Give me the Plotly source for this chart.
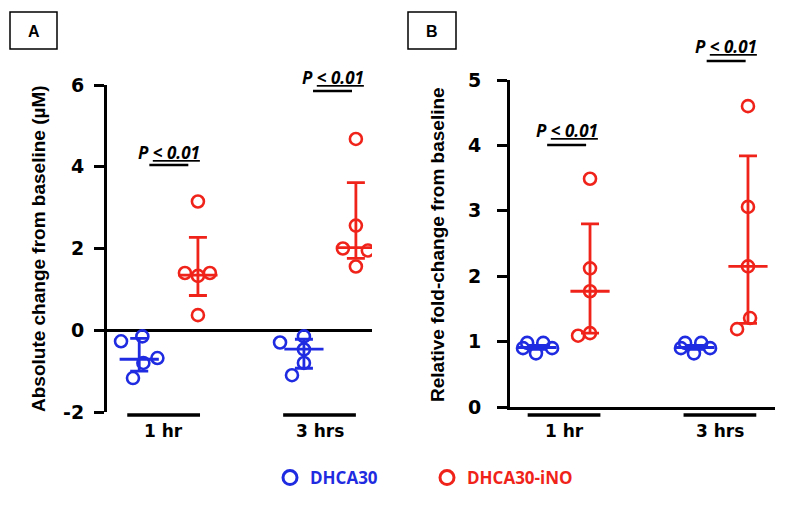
import plotly.graph_objects as go

# ---- data ----
categories = ["1 hr", "3 hrs"]
groups = ["DHCA30", "DHCA30-iNO"]

# panel A: absolute change from baseline (uM)
a_ticks = [-2, 0, 2, 4, 6]
a_ticktext = ["-2", "0", "2", "4", "6"]
a_blue_1hr = [-0.27, -0.15, -0.68, -0.80, -1.17]
a_blue_3hr = [-0.30, -0.15, -0.47, -0.80, -1.10]
a_red_1hr = [3.15, 1.40, 1.40, 1.33, 0.37]
a_red_3hr = [4.68, 2.56, 2.00, 1.95, 1.56]
a_center = [-0.71, -0.46, 1.35, 2.02]   # blue 1hr, blue 3hr, red 1hr, red 3hr
a_upper = [-0.20, -0.22, 2.27, 3.61]
a_lower = [-1.00, -0.93, 0.85, 1.76]

# panel B: relative fold-change from baseline
b_ticks = [0, 1, 2, 3, 4, 5]
b_blue_1hr = [0.98, 0.98, 0.90, 0.90, 0.82]
b_blue_3hr = [0.98, 0.98, 0.90, 0.90, 0.82]
b_red_1hr = [3.49, 2.12, 1.77, 1.13, 1.09]
b_red_3hr = [4.60, 3.06, 2.15, 1.36, 1.19]
b_center = [0.91, 0.91, 1.77, 2.15]
b_upper = [0.94, 0.94, 2.80, 3.84]
b_lower = [0.88, 0.88, 1.13, 1.28]

# ---- layout helpers ----
BLUE = "#1f2be0"
RED = "#f0231a"
FONT = "Liberation Sans"
TICKFONT = "DejaVu Sans"
W, H, OFF = 800, 505, 8   # page body margin shifts the figure by 8px


def px(x):
    return (x - OFF) / W


def py(y):
    return 1 - (y - OFF) / H


cat_pos = [1, 4]
group_off = [-0.5, 0.5]

# horizontal scatter of the circles inside each group
jit_a = {
    "b1": [-0.35, 0.06, 0.35, 0.08, -0.12],
    "b3": [-0.46, 0.0, 0.0, 0.0, -0.23],
    "r1": [0.0, -0.25, 0.23, 0.0, 0.0],
    "r3": [0.0, 0.0, -0.25, 0.23, 0.0],
}
jit_b = {
    "b1": [-0.19, 0.12, -0.27, 0.29, -0.02],
    "b3": [-0.19, 0.12, -0.27, 0.29, -0.02],
    "r1": [0.0, 0.0, 0.0, 0.0, -0.23],
    "r3": [0.0, 0.0, 0.0, 0.04, -0.21],
}

fig = go.Figure()


def add_panel(xa, ya, blue, red, center, upper, lower, jit, shift):
    pos = {
        "b1": cat_pos[0] + group_off[0] + shift[0],
        "b3": cat_pos[1] + group_off[0] + shift[1],
        "r1": cat_pos[0] + group_off[1] + shift[2],
        "r3": cat_pos[1] + group_off[1] + shift[3],
    }
    sets = [("b1", blue[0], BLUE), ("b3", blue[1], BLUE),
            ("r1", red[0], RED), ("r3", red[1], RED)]
    for i, (key, vals, col) in enumerate(sets):
        xs = [pos[key] + j for j in jit[key]]
        fig.add_trace(go.Scatter(
            x=xs, y=vals, mode="markers", xaxis=xa, yaxis=ya, showlegend=False,
            marker=dict(symbol="circle-open", size=12, color=col,
                        line=dict(width=2.6, color=col)),
        ))
        fig.add_trace(go.Scatter(
            x=[pos[key]], y=[center[i]], mode="markers", xaxis=xa, yaxis=ya,
            showlegend=False,
            marker=dict(symbol="line-ew-open", size=28, color=col,
                        line=dict(width=2.8, color=col)),
            error_y=dict(type="data", symmetric=False,
                         array=[upper[i] - center[i]],
                         arrayminus=[center[i] - lower[i]],
                         color=col, thickness=2.8, width=9),
        ))


add_panel("x", "y", [a_blue_1hr, a_blue_3hr], [a_red_1hr, a_red_3hr],
          a_center, a_upper, a_lower, jit_a, [0.03, 0.2, 0.16, 0.2])
add_panel("x2", "y2", [b_blue_1hr, b_blue_3hr], [b_red_1hr, b_red_3hr],
          b_center, b_upper, b_lower, jit_b, [-0.02, 0.02, 0.0, 0.04])

# legend-only entries
for name, col in zip(groups, [BLUE, RED]):
    fig.add_trace(go.Scatter(
        x=[None], y=[None], mode="markers", name=f"<span style='color:{col}'>{name}</span>",
        marker=dict(symbol="circle-open", size=14, color=col, line=dict(width=3, color=col)),
    ))

tick_font = dict(family=TICKFONT, size=19, color="black", weight="bold")
axis_common = dict(showgrid=False, showline=True, linecolor="black", linewidth=3,
                   ticks="outside", ticklen=10, tickwidth=3, tickcolor="black",
                   tickfont=tick_font)

fig.update_layout(
    width=W, height=H,
    margin=dict(l=0, r=0, t=0, b=0, autoexpand=False),
    paper_bgcolor="white", plot_bgcolor="white",
    xaxis=dict(domain=[px(107), px(372)], range=[-0.09, 5.01], visible=False),
    yaxis=dict(domain=[py(412), py(85)], range=[-2, 6], tickvals=a_ticks,
               ticktext=a_ticktext, zeroline=True, zerolinecolor="black",
               zerolinewidth=3, anchor="x", ticklabelstandoff=6, **axis_common),
    xaxis2=dict(domain=[px(510), px(775)], range=[-0.04, 5.06], showgrid=False,
                showline=True, linecolor="black", linewidth=3, showticklabels=False,
                zeroline=False, anchor="y2"),
    yaxis2=dict(domain=[py(407), py(80)], range=[0, 5], tickvals=b_ticks,
                zeroline=False, anchor="x2", ticklabelstandoff=12, **axis_common),
    legend=dict(orientation="h", x=px(270), y=py(478), xanchor="left", yanchor="middle",
                entrywidth=112, entrywidthmode="pixels",
                font=dict(family="Open Sans", size=17, weight="bold")),
)

# category underlines and labels
for xa in ["x", "x2"]:
    for c, lab in zip(cat_pos, categories):
        fig.add_shape(type="line", xref=xa, yref="paper", x0=c - 0.7, x1=c + 0.7,
                      y0=py(415), y1=py(415), line=dict(color="black", width=3.5))
        fig.add_annotation(x=c, y=py(431), xref=xa, yref="paper", text=f"<b>{lab}</b>",
                           showarrow=False, xanchor="center", yanchor="middle",
                           font=dict(family=TICKFONT, size=17, color="black"))

# significance bars
p_label = "<b><i>P <u>&lt; 0.01</u></i></b>"
for xa, xc, ly, ty in [("x", 1.10, 165, 152), ("x", 4.25, 91, 77),
                       ("x2", 1.05, 145, 130), ("x2", 4.12, 61, 47)]:
    fig.add_shape(type="line", xref=xa, yref="paper", x0=xc - 0.375, x1=xc + 0.375,
                  y0=py(ly), y1=py(ly), line=dict(color="black", width=2.5))
    fig.add_annotation(x=xc, y=py(ty), xref=xa, yref="paper", text=p_label,
                       showarrow=False, xanchor="center", yanchor="middle",
                       font=dict(family="Open Sans", size=17, color="black"))

# axis titles
fig.add_annotation(x=px(38), y=py(249), xref="paper", yref="paper", textangle=-90,
                   text="<b>Absolute change from baseline (µM)</b>", showarrow=False,
                   xanchor="center", yanchor="middle",
                   font=dict(family=FONT, size=19, color="black"))
fig.add_annotation(x=px(437), y=py(245), xref="paper", yref="paper", textangle=-90,
                   text="<b>Relative fold-change from baseline</b>", showarrow=False,
                   xanchor="center", yanchor="middle",
                   font=dict(family=FONT, size=19, color="black"))

# panel letters in boxes
for letter, x0, x1 in [("A", 10, 57), ("B", 408, 456)]:
    fig.add_shape(type="rect", xref="paper", yref="paper", x0=px(x0), x1=px(x1),
                  y0=py(49), y1=py(12), line=dict(color="black", width=1.5))
    fig.add_annotation(x=px((x0 + x1) / 2), y=py(31), xref="paper", yref="paper",
                       text=f"<b>{letter}</b>", showarrow=False,
                       xanchor="center", yanchor="middle",
                       font=dict(family=FONT, size=16, color="black"))

fig.write_html("out.html")
